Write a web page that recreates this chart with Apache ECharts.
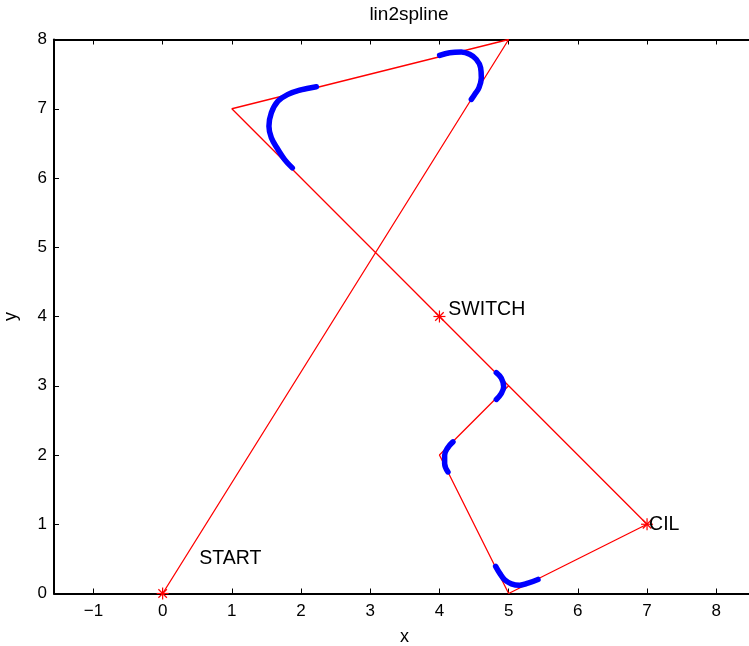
<!DOCTYPE html>
<html>
<head>
<meta charset="utf-8">
<script src="https://cdn.jsdelivr.net/npm/echarts@6/dist/echarts.min.js"></script>
<style>
  html, body { margin: 0; padding: 0; background: #fff; }
  #chart { width: 749px; height: 646px; }
</style>
</head>
<body>
<div id="chart"></div>
<script>
// Linear path (red) through the waypoints
const pathX = [0, 5, 1, 7, 5, 4, 5];
const pathY = [0, 8, 7, 1, 0, 2, 3];

// Marked waypoints (asterisks)
const markX = [0, 4, 7];
const markY = [0, 4, 1];

// Text annotations
const noteText = ['START', 'SWITCH', 'CIL'];
const noteX = [0.5, 4.1, 7];
const noteY = [0.5, 4.1, 1];

// Spline blends (blue) around the corners
const spline1X = [2.221, 1.980, 1.811, 1.666, 1.571, 1.536, 1.571, 1.666, 1.763, 1.874];
const spline1Y = [7.318, 7.269, 7.207, 7.110, 6.942, 6.748, 6.580, 6.411, 6.266, 6.146];
const spline2X = [4.003, 4.147, 4.316, 4.436, 4.533, 4.595, 4.605, 4.571, 4.509, 4.461];
const spline2Y = [7.771, 7.810, 7.819, 7.786, 7.713, 7.593, 7.449, 7.304, 7.207, 7.135];
const spline3X = [4.822, 4.895, 4.928, 4.895, 4.822];
const spline3Y = [3.188, 3.107, 2.986, 2.890, 2.803];
const spline4X = [4.195, 4.123, 4.075, 4.075, 4.123];
const spline4Y = [2.190, 2.109, 1.997, 1.877, 1.755];
const spline5X = [4.812, 4.870, 4.942, 5.039, 5.159, 5.279, 5.424];
const spline5Y = [0.391, 0.294, 0.198, 0.140, 0.120, 0.149, 0.203];

// Axis ticks
const xTicks = [-1, 0, 1, 2, 3, 4, 5, 6, 7, 8];
const yTicks = [0, 1, 2, 3, 4, 5, 6, 7, 8];
const xMin = -1.57, xMax = 8.56, yMin = 0, yMax = 8;

const FONT = 'Liberation Sans, Arial, Helvetica, sans-serif';
const zip = (xs, ys) => xs.map((x, i) => [x, ys[i]]);
const minus = v => String(v).replace('-', '\u2212');

const splines = [
  [spline1X, spline1Y], [spline2X, spline2Y], [spline3X, spline3Y],
  [spline4X, spline4Y], [spline5X, spline5Y]
];

const axisCommon = {
  type: 'value',
  axisLine: { show: true, onZero: false, lineStyle: { color: '#000', width: 2 } },
  splitLine: { show: false },
  axisTick: { show: true, inside: true, length: 5, lineStyle: { color: '#000', width: 1 } }
};

const chart = echarts.init(document.getElementById('chart'), null, { renderer: 'canvas' });

chart.setOption({
  animation: false,
  backgroundColor: '#fff',
  title: {
    text: 'lin2spline',
    left: 404, top: 0, textAlign: 'center',
    textStyle: { fontFamily: FONT, fontSize: 19, fontWeight: 'normal', color: '#000' }
  },
  grid: { left: 54, top: 39.5, width: 701, height: 554, containLabel: false, outerBoundsMode: 'none' },
  xAxis: [
    Object.assign({}, axisCommon, {
      position: 'bottom', min: xMin, max: xMax,
      name: 'x', nameLocation: 'middle', nameGap: 35,
      nameTextStyle: { fontFamily: FONT, fontSize: 18, color: '#000' },
      axisTick: Object.assign({}, axisCommon.axisTick, { customValues: xTicks }),
      axisLabel: { customValues: xTicks, formatter: minus, margin: 9,
        fontFamily: FONT, fontSize: 17, color: '#000' }
    }),
    Object.assign({}, axisCommon, {
      position: 'top', min: xMin, max: xMax,
      axisTick: Object.assign({}, axisCommon.axisTick, { customValues: xTicks }),
      axisLabel: { show: false }
    })
  ],
  yAxis: [
    Object.assign({}, axisCommon, {
      position: 'left', min: yMin, max: yMax,
      name: 'y', nameLocation: 'middle', nameGap: 34, nameRotate: 90,
      nameTextStyle: { fontFamily: FONT, fontSize: 18, color: '#000' },
      axisTick: Object.assign({}, axisCommon.axisTick, { customValues: yTicks }),
      axisLabel: { customValues: yTicks, formatter: minus, margin: 7,
        fontFamily: FONT, fontSize: 17, color: '#000' }
    }),
    Object.assign({}, axisCommon, {
      position: 'right', min: yMin, max: yMax,
      axisTick: Object.assign({}, axisCommon.axisTick, { customValues: yTicks }),
      axisLabel: { show: false }
    })
  ],
  series: [
    {
      type: 'line', data: zip(pathX, pathY), showSymbol: false, symbol: 'none',
      lineStyle: { color: '#ff0000', width: 1.3 }, z: 2
    },
    ...splines.map(([xs, ys]) => ({
      type: 'line', data: zip(xs, ys), smooth: 0.4, showSymbol: false, symbol: 'none',
      lineStyle: { color: '#0000ff', width: 5.5, cap: 'round', join: 'round' }, z: 3
    })),
    {
      // asterisk markers
      type: 'custom', data: zip(markX, markY), z: 4,
      renderItem: (params, api) => {
        const p = api.coord([api.value(0), api.value(1)]);
        const r = 6;
        const d = r * Math.SQRT1_2;
        const segs = [[0, -r, 0, r], [-r, 0, r, 0], [-d, -d, d, d], [-d, d, d, -d]];
        return {
          type: 'group',
          children: segs.map(s => ({
            type: 'line',
            shape: { x1: p[0] + s[0], y1: p[1] + s[1], x2: p[0] + s[2], y2: p[1] + s[3] },
            style: { stroke: '#ff0000', lineWidth: 1.2 }
          }))
        };
      }
    },
    {
      // text annotations
      type: 'scatter', symbolSize: 0, z: 5,
      itemStyle: { opacity: 1 },
      data: noteText.map((t, i) => ({ name: t, value: [noteX[i], noteY[i]] })),
      label: {
        show: true, position: 'right', distance: 2, formatter: '{b}',
        fontFamily: FONT, fontSize: 19.5, color: '#000'
      }
    }
  ]
});
</script>
</body>
</html>
